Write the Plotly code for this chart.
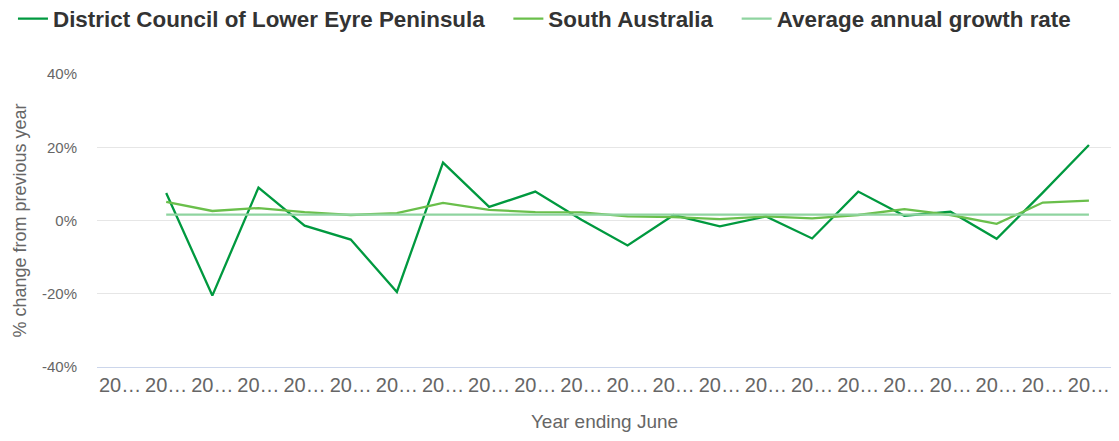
import plotly.graph_objects as go

years = [str(y) for y in range(2001, 2023)]
tick_labels = ["20…"] * len(years)

council = [None, 7.5, -20.5, 9.0, -1.4, -5.2, -19.5, 15.8, 3.7, 7.9, 0.2, -6.8,
           1.5, -1.6, 1.1, -4.9, 7.9, 1.3, 2.4, -5.0, 7.6, 20.6]
south_australia = [None, 5.1, 2.6, 3.4, 2.3, 1.5, 2.0, 4.8, 2.9, 2.3, 2.2, 1.1,
                   0.9, 0.4, 1.1, 0.6, 1.5, 3.1, 1.5, -0.9, 4.9, 5.4]
avg_growth = [None] + [1.6] * 21

names = ["District Council of Lower Eyre Peninsula", "South Australia", "Average annual growth rate"]
colors = ["#00993f", "#6abf4b", "#8fd4a0"]

PAD = "\u00a0\u00a0\u00a0"

fig = go.Figure()
for i, (name, vals, col) in enumerate(zip(names, [council, south_australia, avg_growth], colors)):
    label = name + (PAD if i < len(names) - 1 else "")
    fig.add_trace(go.Scatter(x=years, y=vals, mode="lines", name=label,
                             line=dict(color=col, width=2.3), connectgaps=False))

fig.update_layout(
    width=1111, height=433,
    margin=dict(l=89, r=7, t=66, b=74, autoexpand=False),
    paper_bgcolor="white", plot_bgcolor="white",
    font=dict(family="Liberation Sans, Arial, sans-serif", color="#666666"),
    showlegend=True,
    legend=dict(orientation="h", x=-0.0828, y=1.1877, xanchor="left", yanchor="middle",
                xref="paper", yref="paper",
                font=dict(size=22.4, color="#333333", family="Liberation Sans, Arial, sans-serif", weight="bold"),
                itemwidth=30, tracegroupgap=0),
    xaxis=dict(type="category", categoryorder="array", categoryarray=years,
               tickmode="array", tickvals=years, ticktext=tick_labels,
               range=[-0.5, 21.5], showgrid=False, showline=True, linecolor="#ccd6eb",
               linewidth=1, ticks="", automargin=False,
               tickfont=dict(size=20, color="#666666"),
               title=dict(text="Year ending June", font=dict(size=19, color="#666666"), standoff=19)),
    yaxis=dict(range=[-40, 40], tickvals=[-40, -20, 0, 20, 40],
               ticktext=["-40%", "-20%", "0%", "20%", "40%"],
               showgrid=True, gridcolor="#e6e6e6", gridwidth=1,
               zeroline=False, showline=False, ticks="", automargin=False,
               ticklabelstandoff=19,
               tickfont=dict(size=15, color="#666666"),
               title=dict(text="% change from previous year", font=dict(size=18, color="#666666"), standoff=10)),
)

fig.write_html("out.html")
